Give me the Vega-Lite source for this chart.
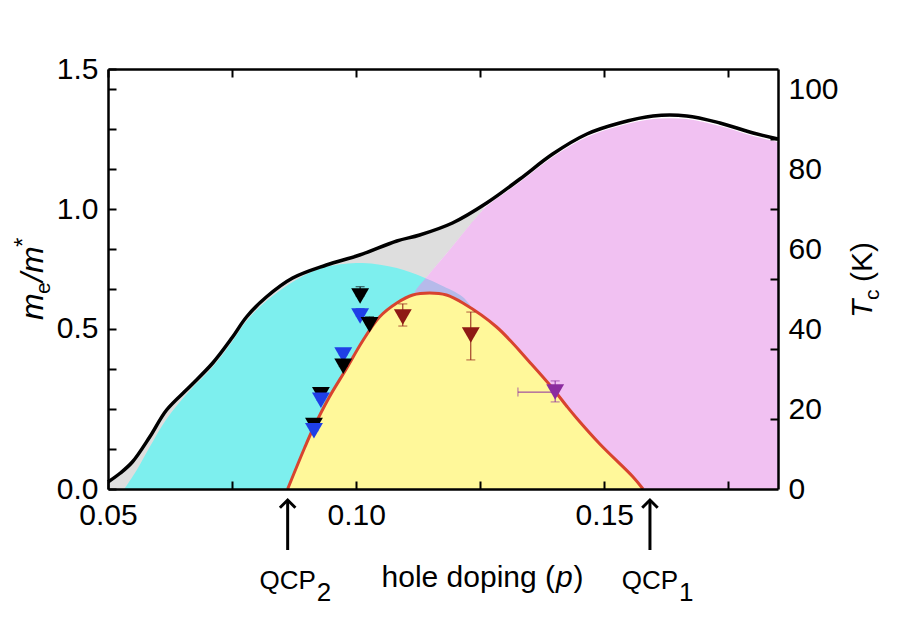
{
  "$schema": "https://vega.github.io/schema/vega-lite/v6.json",
  "width": 670,
  "height": 420,
  "autosize": "none",
  "padding": {"left": 108, "top": 69, "right": 122, "bottom": 135},
  "background": "white",
  "config": {
    "view": {"stroke": null},
    "font": "Liberation Sans",
    "text": {"font": "Liberation Sans", "color": "black", "baseline": "alphabetic"}
  },
  "datasets": {
    "black": [
      {"p": 0.05, "Tc": 1.75}, {"p": 0.0525, "Tc": 4}, {"p": 0.0549, "Tc": 6.75}, {"p": 0.0584, "Tc": 13},
      {"p": 0.0618, "Tc": 19.75}, {"p": 0.0664, "Tc": 25.5}, {"p": 0.0711, "Tc": 31.5}, {"p": 0.0751, "Tc": 38},
      {"p": 0.0779, "Tc": 43}, {"p": 0.0819, "Tc": 48}, {"p": 0.0872, "Tc": 52.75}, {"p": 0.094, "Tc": 56},
      {"p": 0.1007, "Tc": 58.5}, {"p": 0.1082, "Tc": 62}, {"p": 0.1128, "Tc": 63.5}, {"p": 0.1194, "Tc": 66.5},
      {"p": 0.1263, "Tc": 71.5}, {"p": 0.133, "Tc": 77.5}, {"p": 0.1396, "Tc": 83.75}, {"p": 0.1465, "Tc": 88.75},
      {"p": 0.1531, "Tc": 91.5}, {"p": 0.1598, "Tc": 93.25}, {"p": 0.1666, "Tc": 93.25}, {"p": 0.1733, "Tc": 91.5},
      {"p": 0.18, "Tc": 89}, {"p": 0.185, "Tc": 87.5}
    ],
    "grey": [
      {"p": 0.05, "top": 1.75, "bot": 0}, {"p": 0.0525, "top": 4, "bot": 0}, {"p": 0.0549, "top": 6.75, "bot": 0},
      {"p": 0.0584, "top": 13, "bot": 0}, {"p": 0.0618, "top": 19.75, "bot": 0}, {"p": 0.0664, "top": 25.5, "bot": 0},
      {"p": 0.0711, "top": 31.5, "bot": 0}, {"p": 0.0751, "top": 38, "bot": 0}, {"p": 0.0779, "top": 43, "bot": 0},
      {"p": 0.0819, "top": 48, "bot": 0}, {"p": 0.0872, "top": 52.75, "bot": 0}, {"p": 0.094, "top": 56, "bot": 0},
      {"p": 0.1007, "top": 58.5, "bot": 0}, {"p": 0.1082, "top": 62, "bot": 0}, {"p": 0.111, "top": 63, "bot": 46},
      {"p": 0.1118, "top": 63.3, "bot": 49.25}, {"p": 0.1142, "top": 64.1, "bot": 53}, {"p": 0.1188, "top": 66.2, "bot": 59.75},
      {"p": 0.1229, "top": 69, "bot": 66}, {"p": 0.1255, "top": 70.9, "bot": 69.75}, {"p": 0.1263, "top": 71.5, "bot": 71.5}
    ],
    "cyan": [
      {"p": 0.0533, "Tc": 0}, {"p": 0.0558, "Tc": 4.75}, {"p": 0.0584, "Tc": 10.5}, {"p": 0.0618, "Tc": 17.5},
      {"p": 0.0664, "Tc": 24.5}, {"p": 0.0711, "Tc": 30.5}, {"p": 0.0751, "Tc": 37}, {"p": 0.0779, "Tc": 42},
      {"p": 0.0819, "Tc": 47}, {"p": 0.0872, "Tc": 51.75}, {"p": 0.0915, "Tc": 54.5}, {"p": 0.0947, "Tc": 55.75},
      {"p": 0.1013, "Tc": 56.5}, {"p": 0.1082, "Tc": 55.25}, {"p": 0.1134, "Tc": 53}, {"p": 0.117, "Tc": 51},
      {"p": 0.1215, "Tc": 48}, {"p": 0.1235, "Tc": 45}
    ],
    "pink": [
      {"p": 0.111, "Tc": 46}, {"p": 0.1118, "Tc": 49.25}, {"p": 0.1142, "Tc": 53}, {"p": 0.1188, "Tc": 59.75},
      {"p": 0.1229, "Tc": 66}, {"p": 0.1255, "Tc": 69.75}, {"p": 0.1263, "Tc": 70.75}, {"p": 0.133, "Tc": 76.75},
      {"p": 0.1396, "Tc": 83}, {"p": 0.1465, "Tc": 88}, {"p": 0.1531, "Tc": 90.75}, {"p": 0.1598, "Tc": 92.5},
      {"p": 0.1666, "Tc": 92.5}, {"p": 0.1733, "Tc": 90.75}, {"p": 0.18, "Tc": 88.25}, {"p": 0.185, "Tc": 86.75}
    ],
    "dome": [
      {"p": 0.0862, "Tc": 0}, {"p": 0.0896, "Tc": 10.25}, {"p": 0.0912, "Tc": 14.75}, {"p": 0.0946, "Tc": 23},
      {"p": 0.098, "Tc": 30}, {"p": 0.1013, "Tc": 37}, {"p": 0.1047, "Tc": 43}, {"p": 0.1082, "Tc": 46.5},
      {"p": 0.1114, "Tc": 48.5}, {"p": 0.1148, "Tc": 49}, {"p": 0.1182, "Tc": 48.5}, {"p": 0.1215, "Tc": 46.5},
      {"p": 0.1283, "Tc": 40.5}, {"p": 0.1353, "Tc": 31.25}, {"p": 0.1397, "Tc": 25}, {"p": 0.1424, "Tc": 20.75},
      {"p": 0.1444, "Tc": 17.75}, {"p": 0.1491, "Tc": 11.25}, {"p": 0.1558, "Tc": 3}, {"p": 0.1578, "Tc": 0}
    ],
    "tri": [
      {"p": 0.1008, "m": 0.689, "lo": 0.689, "hi": 0.722, "grp": "black"},
      {"p": 0.1008, "m": 0.618, "lo": 0.618, "hi": 0.645, "grp": "blue"},
      {"p": 0.0974, "m": 0.479, "lo": 0.479, "hi": 0.5, "grp": "blue"},
      {"p": 0.1027, "m": 0.587, "lo": 0.587, "hi": 0.615, "grp": "black"},
      {"p": 0.0974, "m": 0.438, "lo": 0.438, "hi": 0.46, "grp": "black"},
      {"p": 0.0929, "m": 0.337, "lo": 0.337, "hi": 0.36, "grp": "black"},
      {"p": 0.0929, "m": 0.317, "lo": 0.317, "hi": 0.335, "grp": "blue"},
      {"p": 0.0915, "m": 0.227, "lo": 0.227, "hi": 0.25, "grp": "black"},
      {"p": 0.0915, "m": 0.208, "lo": 0.208, "hi": 0.225, "grp": "blue"},
      {"p": 0.1094, "m": 0.614, "lo": 0.582, "hi": 0.661, "grp": "darkred"},
      {"p": 0.1231, "m": 0.55, "lo": 0.461, "hi": 0.632, "grp": "darkred"},
      {"p": 0.1401, "m": 0.346, "lo": 0.311, "hi": 0.386, "grp": "purple"}
    ],
    "xerr": [
      {"p": 0.1401, "plo": 0.1326, "m": 0.346, "grp": "purple"}
    ],
    "qcp": [
      {"label": "QCP", "sub": "2", "p": 0.0862},
      {"label": "QCP", "sub": "1", "p": 0.1592}
    ]
  },
  "resolve": {"scale": {"y": "independent"}, "axis": {"x": "independent", "y": "independent"}},
  "layer": [
    {
      "data": {"name": "grey"},
      "mark": {"type": "area", "color": "#DEDEDE", "interpolate": "linear"},
      "encoding": {
        "x": {"field": "p", "type": "quantitative", "scale": {"domain": [0.05, 0.185], "nice": false}, "axis": null},
        "y": {"field": "top", "type": "quantitative", "scale": {"domain": [0, 105], "nice": false}, "axis": null},
        "y2": {"field": "bot"}
      }
    },
    {
      "data": {"name": "cyan"},
      "mark": {"type": "area", "color": "#7DEFEE", "interpolate": "catmull-rom"},
      "encoding": {
        "x": {"field": "p", "type": "quantitative", "scale": {"domain": [0.05, 0.185], "nice": false}, "axis": null},
        "y": {"field": "Tc", "type": "quantitative", "scale": {"domain": [0, 105], "nice": false}, "axis": null}
      }
    },
    {
      "data": {"name": "pink"},
      "mark": {"type": "area", "color": "#E68EE7", "opacity": 0.55, "interpolate": "catmull-rom"},
      "encoding": {
        "x": {"field": "p", "type": "quantitative", "scale": {"domain": [0.05, 0.185], "nice": false}, "axis": null},
        "y": {"field": "Tc", "type": "quantitative", "scale": {"domain": [0, 105], "nice": false}, "axis": null}
      }
    },
    {
      "data": {"name": "dome"},
      "mark": {"type": "area", "color": "#FFF89A", "interpolate": "catmull-rom"},
      "encoding": {
        "x": {"field": "p", "type": "quantitative", "scale": {"domain": [0.05, 0.185], "nice": false}, "axis": null},
        "y": {"field": "Tc", "type": "quantitative", "scale": {"domain": [0, 105], "nice": false}, "axis": null}
      }
    },
    {
      "data": {"name": "dome"},
      "mark": {"type": "line", "color": "#D8432F", "strokeWidth": 3, "interpolate": "catmull-rom"},
      "encoding": {
        "x": {"field": "p", "type": "quantitative", "scale": {"domain": [0.05, 0.185], "nice": false}, "axis": null},
        "y": {"field": "Tc", "type": "quantitative", "scale": {"domain": [0, 105], "nice": false}, "axis": null}
      }
    },
    {
      "data": {"name": "black"},
      "mark": {"type": "line", "color": "black", "strokeWidth": 3.5, "interpolate": "catmull-rom"},
      "encoding": {
        "x": {"field": "p", "type": "quantitative", "scale": {"domain": [0.05, 0.185], "nice": false},
          "axis": {"orient": "bottom", "title": null, "grid": false, "zindex": 1,
            "values": [0.05, 0.075, 0.1, 0.125, 0.15, 0.175],
            "labelExpr": "round(datum.value * 1000) % 50 === 0 ? format(datum.value, '.2f') : ''",
            "domain": true, "domainColor": "black", "domainWidth": 2.5,
            "tickSize": -8, "tickWidth": 2, "tickColor": "black",
            "labelFont": "Liberation Sans", "labelFontSize": 30, "labelColor": "black",
            "labelPadding": 19, "labelFlush": false, "labelOverlap": false}},
        "y": {"field": "Tc", "type": "quantitative", "scale": {"domain": [0, 105], "nice": false},
          "axis": {"orient": "right", "title": null, "grid": false, "zindex": 1,
            "values": [0, 17.5, 20, 35, 40, 52.5, 60, 70, 80, 87.5, 100],
            "labelExpr": "datum.value % 20 === 0 ? format(datum.value, 'd') : ''",
            "domain": true, "domainColor": "black", "domainWidth": 2.5,
            "tickSize": -8, "tickWidth": 2, "tickColor": "black",
            "tickOpacity": {"condition": {"test": "datum.value % 20 === 0", "value": 0}, "value": 1},
            "labelFont": "Liberation Sans", "labelFontSize": 30, "labelColor": "black",
            "labelPadding": 18, "labelFlush": false, "labelOverlap": false}}
      }
    },
    {
      "data": {"name": "tri"},
      "mark": {"type": "rule", "strokeWidth": 1},
      "encoding": {
        "x": {"field": "p", "type": "quantitative", "scale": {"domain": [0.05, 0.185], "nice": false}, "axis": null},
        "y": {"field": "lo", "type": "quantitative", "scale": {"domain": [0, 1.5], "nice": false}, "axis": null},
        "y2": {"field": "hi"},
        "color": {"field": "grp", "type": "nominal", "legend": null,
          "scale": {"domain": ["black", "blue", "darkred", "purple"], "range": ["#000000", "#1F3FE6", "#8E1A15", "#8B2C9F"]}}
      }
    },
    {
      "data": {"name": "tri"},
      "mark": {"type": "tick", "orient": "horizontal", "size": 9, "thickness": 1},
      "encoding": {
        "x": {"field": "p", "type": "quantitative", "scale": {"domain": [0.05, 0.185], "nice": false}, "axis": null},
        "y": {"field": "hi", "type": "quantitative", "scale": {"domain": [0, 1.5], "nice": false}, "axis": null},
        "color": {"field": "grp", "type": "nominal", "legend": null}
      }
    },
    {
      "data": {"name": "tri"},
      "mark": {"type": "tick", "orient": "horizontal", "size": 9, "thickness": 1},
      "encoding": {
        "x": {"field": "p", "type": "quantitative", "scale": {"domain": [0.05, 0.185], "nice": false}, "axis": null},
        "y": {"field": "lo", "type": "quantitative", "scale": {"domain": [0, 1.5], "nice": false}, "axis": null},
        "color": {"field": "grp", "type": "nominal", "legend": null}
      }
    },
    {
      "data": {"name": "xerr"},
      "mark": {"type": "rule", "strokeWidth": 1},
      "encoding": {
        "x": {"field": "plo", "type": "quantitative", "scale": {"domain": [0.05, 0.185], "nice": false}, "axis": null},
        "x2": {"field": "p"},
        "y": {"field": "m", "type": "quantitative", "scale": {"domain": [0, 1.5], "nice": false}, "axis": null},
        "color": {"field": "grp", "type": "nominal", "legend": null}
      }
    },
    {
      "data": {"name": "xerr"},
      "mark": {"type": "tick", "orient": "vertical", "size": 9, "thickness": 1},
      "encoding": {
        "x": {"field": "plo", "type": "quantitative", "scale": {"domain": [0.05, 0.185], "nice": false}, "axis": null},
        "y": {"field": "m", "type": "quantitative", "scale": {"domain": [0, 1.5], "nice": false}, "axis": null},
        "color": {"field": "grp", "type": "nominal", "legend": null}
      }
    },
    {
      "data": {"name": "tri"},
      "mark": {"type": "point", "shape": "triangle-down", "filled": true, "size": 320, "opacity": 1},
      "encoding": {
        "x": {"field": "p", "type": "quantitative", "scale": {"domain": [0.05, 0.185], "nice": false},
          "axis": {"orient": "top", "title": null, "grid": false, "labels": false, "zindex": 1,
            "values": [0.05, 0.075, 0.1, 0.125, 0.15, 0.175],
            "domain": true, "domainColor": "black", "domainWidth": 2.5,
            "tickSize": -8, "tickWidth": 2, "tickColor": "black"}},
        "y": {"field": "m", "type": "quantitative", "scale": {"domain": [0, 1.5], "nice": false},
          "axis": {"orient": "left", "title": null, "grid": false, "zindex": 1,
            "values": [0, 0.142857, 0.285714, 0.428571, 0.571429, 0.714286, 0.857143, 1, 1.142857, 1.285714, 1.428571, 1.5],
            "labelExpr": "datum.value === 0 ? '0.0' : abs(datum.value - 0.571429) < 0.001 ? '0.5' : datum.value === 1 ? '1.0' : datum.value === 1.5 ? '1.5' : ''",
            "domain": true, "domainColor": "black", "domainWidth": 2.5,
            "tickSize": -8, "tickWidth": 2, "tickColor": "black",
            "labelFont": "Liberation Sans", "labelFontSize": 30, "labelColor": "black",
            "labelPadding": 18, "labelFlush": false, "labelOverlap": false}},
        "color": {"field": "grp", "type": "nominal", "legend": null}
      }
    },
    {
      "data": {"name": "qcp"},
      "mark": {"type": "rule", "color": "black", "strokeWidth": 3},
      "encoding": {
        "x": {"field": "p", "type": "quantitative", "scale": {"domain": [0.05, 0.185], "nice": false}, "axis": null},
        "y": {"datum": -3, "type": "quantitative", "scale": {"domain": [0, 105], "nice": false}, "axis": null},
        "y2": {"datum": -15.25}
      }
    },
    {
      "data": {"name": "qcp"},
      "mark": {"type": "point", "shape": "M-1,1L0,0L1,1", "filled": false, "stroke": "black", "strokeWidth": 3, "size": 240, "opacity": 1},
      "encoding": {
        "x": {"field": "p", "type": "quantitative", "scale": {"domain": [0.05, 0.185], "nice": false}, "axis": null},
        "y": {"datum": -2.75, "type": "quantitative", "scale": {"domain": [0, 105], "nice": false}, "axis": null}
      }
    },
    {
      "data": {"name": "qcp"},
      "mark": {"type": "text", "fontSize": 26, "align": "center", "baseline": "alphabetic"},
      "encoding": {
        "x": {"field": "p", "type": "quantitative", "scale": {"domain": [0.05, 0.185], "nice": false}, "axis": null},
        "y": {"datum": -25, "type": "quantitative", "scale": {"domain": [0, 105], "nice": false}, "axis": null},
        "text": {"field": "label"}
      }
    },
    {
      "data": {"name": "qcp"},
      "mark": {"type": "text", "fontSize": 26, "align": "left", "baseline": "alphabetic", "dx": 29, "dy": 12},
      "encoding": {
        "x": {"field": "p", "type": "quantitative", "scale": {"domain": [0.05, 0.185], "nice": false}, "axis": null},
        "y": {"datum": -25, "type": "quantitative", "scale": {"domain": [0, 105], "nice": false}, "axis": null},
        "text": {"field": "sub"}
      }
    },
    {
      "data": {"values": [{}]},
      "mark": {"type": "text", "text": "hole doping (", "fontSize": 30, "align": "right", "baseline": "alphabetic"},
      "encoding": {
        "x": {"datum": 0.14007, "type": "quantitative", "scale": {"domain": [0.05, 0.185], "nice": false}, "axis": null},
        "y": {"datum": -24.5, "type": "quantitative", "scale": {"domain": [0, 105], "nice": false}, "axis": null}
      }
    },
    {
      "data": {"values": [{}]},
      "mark": {"type": "text", "text": "p", "fontSize": 30, "fontStyle": "italic", "align": "left", "baseline": "alphabetic", "dx": 1},
      "encoding": {
        "x": {"datum": 0.14007, "type": "quantitative", "scale": {"domain": [0.05, 0.185], "nice": false}, "axis": null},
        "y": {"datum": -24.5, "type": "quantitative", "scale": {"domain": [0, 105], "nice": false}, "axis": null}
      }
    },
    {
      "data": {"values": [{}]},
      "mark": {"type": "text", "text": ")", "fontSize": 30, "align": "left", "baseline": "alphabetic", "dx": 18.5},
      "encoding": {
        "x": {"datum": 0.14007, "type": "quantitative", "scale": {"domain": [0.05, 0.185], "nice": false}, "axis": null},
        "y": {"datum": -24.5, "type": "quantitative", "scale": {"domain": [0, 105], "nice": false}, "axis": null}
      }
    },
    {
      "data": {"values": [{}]},
      "mark": {"type": "text", "text": "m", "fontSize": 32, "fontStyle": "italic", "angle": 270, "align": "left", "baseline": "alphabetic"},
      "encoding": {
        "x": {"datum": 0.0369, "type": "quantitative", "scale": {"domain": [0.05, 0.185], "nice": false}, "axis": null},
        "y": {"datum": 42.25, "type": "quantitative", "scale": {"domain": [0, 105], "nice": false}, "axis": null}
      }
    },
    {
      "data": {"values": [{}]},
      "mark": {"type": "text", "text": "e", "fontSize": 21, "angle": 270, "align": "left", "baseline": "alphabetic", "dx": 26, "dy": 7},
      "encoding": {
        "x": {"datum": 0.0369, "type": "quantitative", "scale": {"domain": [0.05, 0.185], "nice": false}, "axis": null},
        "y": {"datum": 42.25, "type": "quantitative", "scale": {"domain": [0, 105], "nice": false}, "axis": null}
      }
    },
    {
      "data": {"values": [{}]},
      "mark": {"type": "text", "text": "/m", "fontSize": 32, "fontStyle": "italic", "angle": 270, "align": "left", "baseline": "alphabetic", "dx": 38},
      "encoding": {
        "x": {"datum": 0.0369, "type": "quantitative", "scale": {"domain": [0.05, 0.185], "nice": false}, "axis": null},
        "y": {"datum": 42.25, "type": "quantitative", "scale": {"domain": [0, 105], "nice": false}, "axis": null}
      }
    },
    {
      "data": {"values": [{}]},
      "mark": {"type": "text", "text": "*", "fontSize": 24, "angle": 270, "align": "left", "baseline": "alphabetic", "dx": 73, "dy": -12},
      "encoding": {
        "x": {"datum": 0.0369, "type": "quantitative", "scale": {"domain": [0.05, 0.185], "nice": false}, "axis": null},
        "y": {"datum": 42.25, "type": "quantitative", "scale": {"domain": [0, 105], "nice": false}, "axis": null}
      }
    },
    {
      "data": {"values": [{}]},
      "mark": {"type": "text", "text": "T", "fontSize": 30, "fontStyle": "italic", "angle": 270, "align": "left", "baseline": "alphabetic"},
      "encoding": {
        "x": {"datum": 0.20394, "type": "quantitative", "scale": {"domain": [0.05, 0.185], "nice": false}, "axis": null},
        "y": {"datum": 42.75, "type": "quantitative", "scale": {"domain": [0, 105], "nice": false}, "axis": null}
      }
    },
    {
      "data": {"values": [{}]},
      "mark": {"type": "text", "text": "c", "fontSize": 21, "angle": 270, "align": "left", "baseline": "alphabetic", "dx": 18, "dy": 7},
      "encoding": {
        "x": {"datum": 0.20394, "type": "quantitative", "scale": {"domain": [0.05, 0.185], "nice": false}, "axis": null},
        "y": {"datum": 42.75, "type": "quantitative", "scale": {"domain": [0, 105], "nice": false}, "axis": null}
      }
    },
    {
      "data": {"values": [{}]},
      "mark": {"type": "text", "text": "(K)", "fontSize": 30, "angle": 270, "align": "left", "baseline": "alphabetic", "dx": 36},
      "encoding": {
        "x": {"datum": 0.20394, "type": "quantitative", "scale": {"domain": [0.05, 0.185], "nice": false}, "axis": null},
        "y": {"datum": 42.75, "type": "quantitative", "scale": {"domain": [0, 105], "nice": false}, "axis": null}
      }
    }
  ]
}
